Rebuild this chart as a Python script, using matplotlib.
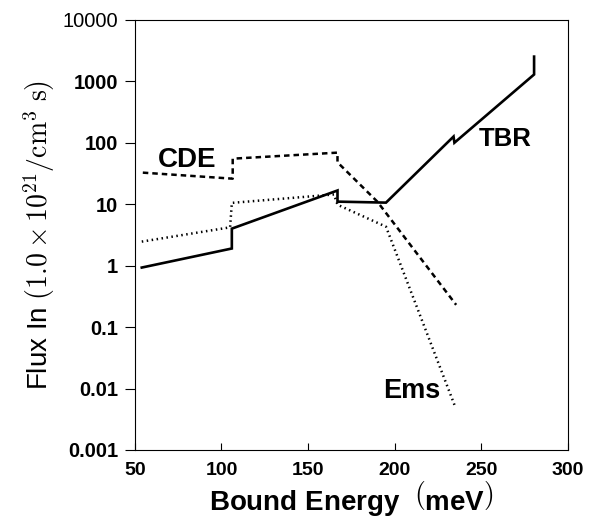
import numpy as np
from matplotlib import pyplot as plt

plt.rcParams['font.family'] = ['Liberation Sans', 'DejaVu Sans']
plt.rcParams['mathtext.fontset'] = 'cm'

# TBR (solid)
tbr_x = [54, 106, 106, 167, 167, 195, 234, 234.5, 280.5, 280.5]
tbr_y = [0.93, 1.9, 4.0, 16.7, 11.0, 10.6, 126, 100, 1290, 2520]
# CDE (dashed)
cde_x = [54.6, 106.5, 106.5, 167, 167, 190, 235.5]
cde_y = [32.6, 26, 55, 69, 48, 11, 0.23]
# Ems (dotted)
ems_x = [54, 105, 106, 165, 167, 195, 235]
ems_y = [2.46, 4.2, 10.5, 14.4, 9.8, 4.3, 0.005]

yticks = [0.001, 0.01, 0.1, 1, 10, 100, 1000, 10000]
ylabels = ['0.001', '0.01', '0.1', '1', '10', '100', '1000', '10000']
xticks = [50, 100, 150, 200, 250, 300]

fig = plt.figure(figsize=(5.94, 5.22), dpi=100)
ax = fig.add_axes([0.227, 0.138, 0.729, 0.824])

ax.plot(tbr_x, tbr_y, color='black', lw=1.9, solid_joinstyle='miter')
ax.plot(cde_x, cde_y, color='black', lw=1.8, linestyle=(0, (2.2, 1.6)))
ax.plot(ems_x, ems_y, color='black', lw=1.8, linestyle=(0, (0.6, 1.4)))

ax.set_yscale('log')
ax.set_xlim(50, 300)
ax.set_ylim(0.001, 10000)
ax.set_yticks(yticks)
ax.set_yticklabels(ylabels)
ax.yaxis.set_minor_locator(plt.NullLocator())
ax.set_xticks(xticks)

for s in ax.spines.values():
    s.set_linewidth(0.8)
ax.tick_params(axis='x', direction='in', length=5, width=0.8, labelsize=14, pad=9)
ax.tick_params(axis='y', direction='out', length=7, width=0.8, labelsize=14.5, pad=5)
for lab in ax.get_xticklabels() + ax.get_yticklabels()[:-1]:
    lab.set_fontweight('bold')

ax.text(80, 53, 'CDE', fontsize=20, fontweight='bold', ha='center', va='center')
ax.text(264, 113, 'TBR', fontsize=18.5, fontweight='bold', ha='center', va='center')
ax.text(210, 0.0092, 'Ems', fontsize=19.5, fontweight='bold', ha='center', va='center')

ax.set_xlabel(r'Bound Energy  $\left(\right.$meV$\left.\right)$', fontsize=20, fontweight='bold', labelpad=0)
ax.set_ylabel(r'Flux In $(1.0 \times 10^{21}/\mathrm{cm}^3\ \mathrm{s})$', fontsize=20, labelpad=4)

fig.savefig('out.png', dpi=100)
